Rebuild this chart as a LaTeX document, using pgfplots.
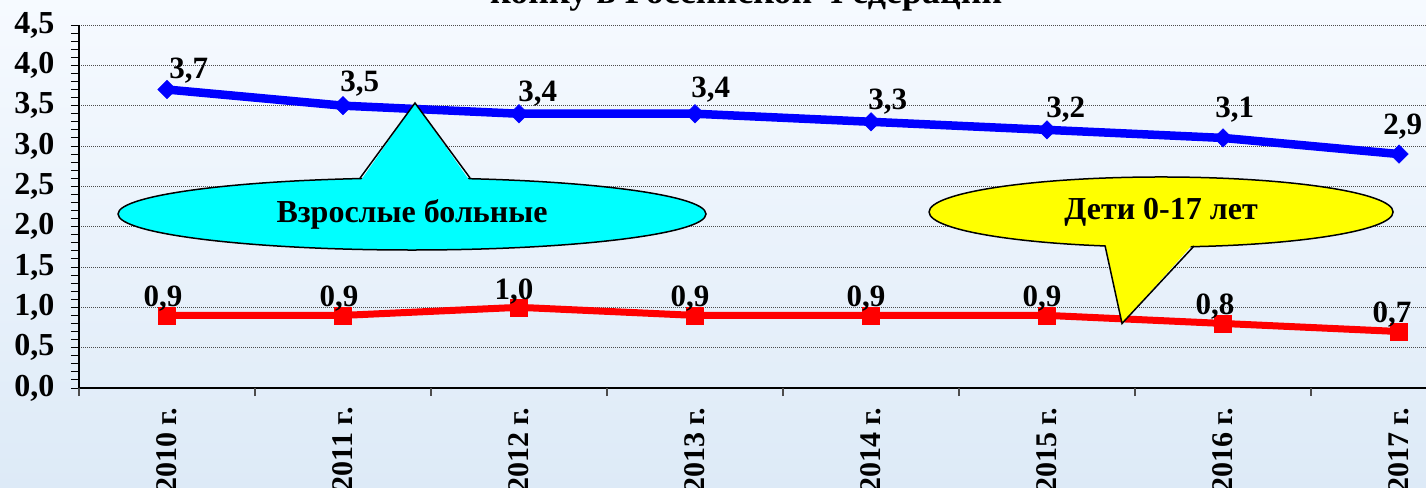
\documentclass[border=0pt]{standalone}
\usepackage{fontspec}
\setmainfont{Liberation Serif}
\usepackage{pgfplots}
\usepackage{pgfplotstable}
\pgfplotsset{compat=1.18}
\definecolor{bgtop}{RGB}{246,250,255}
\definecolor{bgbot}{RGB}{221,234,247}
\definecolor{calcyan}{RGB}{0,255,255}
\definecolor{calyel}{RGB}{255,255,0}
\pgfplotstableread{
x y dx dy
0 3.7 2 11
1 3.5 -3 14
2 3.4 -1 12
3 3.4 -4 16
4 3.3 -3 12
5 3.2 -1 12
6 3.1 -8 20
7 2.9 -16 20
}\adults
\pgfplotstableread{
x y dx dy
0 0.9 -4 9
1 0.9 -4 9
2 1.0 -5 8
3 0.9 -5 9
4 0.9 -5 9
5 0.9 -5 9
6 0.8 -8 9
7 0.7 -7 9
}\children
\begin{document}
\begin{tikzpicture}
\useasboundingbox (0bp,0bp) rectangle (1426bp,488bp);
\clip (0bp,0bp) rectangle (1426bp,488bp);
\shade[top color=bgtop, bottom color=bgbot] (0bp,0bp) rectangle (1426bp,488bp);
\node[font=\fontsize{36bp}{38bp}\selectfont\bfseries, anchor=base west, inner sep=0pt] at (490bp,484.5bp) {конку в Российской Федерации};
\begin{axis}[
  at={(79bp,100bp)}, anchor=south west,
  scale only axis, width=1347bp, height=363bp,
  xmin=-0.5, xmax=7.153, ymin=0, ymax=4.5,
  axis x line*=bottom, axis y line*=left,
  axis line style={black, line width=1.3bp, -},
  xtick={0,...,7},
  xticklabels={2010 г.,2011 г.,2012 г.,2013 г.,2014 г.,2015 г.,2016 г.,2017 г.},
  xtick style={draw=none},
  xticklabel style={rotate=90, anchor=east, font=\fontsize{30bp}{32bp}\selectfont\bfseries, xshift=-8bp, yshift=0bp},
  extra x ticks={-0.5,0.5,1.5,2.5,3.5,4.5,5.5,6.5},
  extra x tick labels={},
  extra x tick style={xtick style={draw=gray!60!black, line width=1.3bp}},
  ytick={0,0.5,...,4.5},
  minor y tick num=4,
  ytick style={black, line width=1bp},
  tick align=outside,
  major tick length=8bp, minor tick length=8bp,
  ymajorgrids,
  major grid style={gray!60!black, line width=1bp, dash pattern=on 1bp off 1bp},
  yticklabel style={font=\fontsize{32bp}{34bp}\selectfont\bfseries, xshift=-13bp},
  /pgf/number format/.cd, fixed, fixed zerofill, precision=1, use comma, assume math mode=true,
  /pgfplots/.cd,
  clip=false,
]
\addplot[blue, line width=8.5bp, mark=square*, mark size=6.5bp, mark options={solid, fill=blue, rotate=45, line width=0.5bp},
  visualization depends on={\thisrow{dx}\as\dx},
  visualization depends on={\thisrow{dy}\as\dy},
  nodes near coords, every node near coord/.style={anchor=base west, inner sep=0pt, xshift=\dx bp, yshift=\dy bp, black, font=\fontsize{31bp}{33bp}\selectfont\bfseries}]
  table[x=x, y=y] {\adults};
\addplot[red, line width=7bp, mark=square*, mark size=8.5bp, mark options={solid, fill=red, line width=0.5bp},
  visualization depends on={\thisrow{dx}\as\dx},
  visualization depends on={\thisrow{dy}\as\dy},
  nodes near coords, every node near coord/.style={anchor=base, inner sep=0pt, xshift=\dx bp, yshift=\dy bp, black, font=\fontsize{31bp}{33bp}\selectfont\bfseries}]
  table[x=x, y=y] {\children};
% callout: adults
\fill[calcyan, draw=black, line width=1.5bp] (axis cs:1.392,2.157) ellipse [x radius=294bp, y radius=36bp];
\fill[calcyan] (axis cs:1.097,2.56) -- (axis cs:1.409,3.533) -- (axis cs:1.722,2.56) -- cycle;
\draw[black, line width=1.5bp] (axis cs:1.097,2.603) -- (axis cs:1.409,3.533) -- (axis cs:1.722,2.603);
\node[font=\fontsize{32bp}{34bp}\selectfont\bfseries] at (axis cs:1.392,2.157) {Взрослые больные};
% callout: children
\fill[calyel, draw=black, line width=1.5bp] (axis cs:5.648,2.182) ellipse [x radius=232bp, y radius=35bp];
\fill[calyel] (axis cs:5.330,1.80) -- (axis cs:5.426,0.80) -- (axis cs:5.835,1.80) -- cycle;
\draw[black, line width=1.5bp] (axis cs:5.330,1.760) -- (axis cs:5.426,0.80) -- (axis cs:5.835,1.760);
\node[font=\fontsize{32bp}{34bp}\selectfont\bfseries] at (axis cs:5.648,2.182) {Дети 0-17 лет};
\end{axis}
\end{tikzpicture}
\end{document}
